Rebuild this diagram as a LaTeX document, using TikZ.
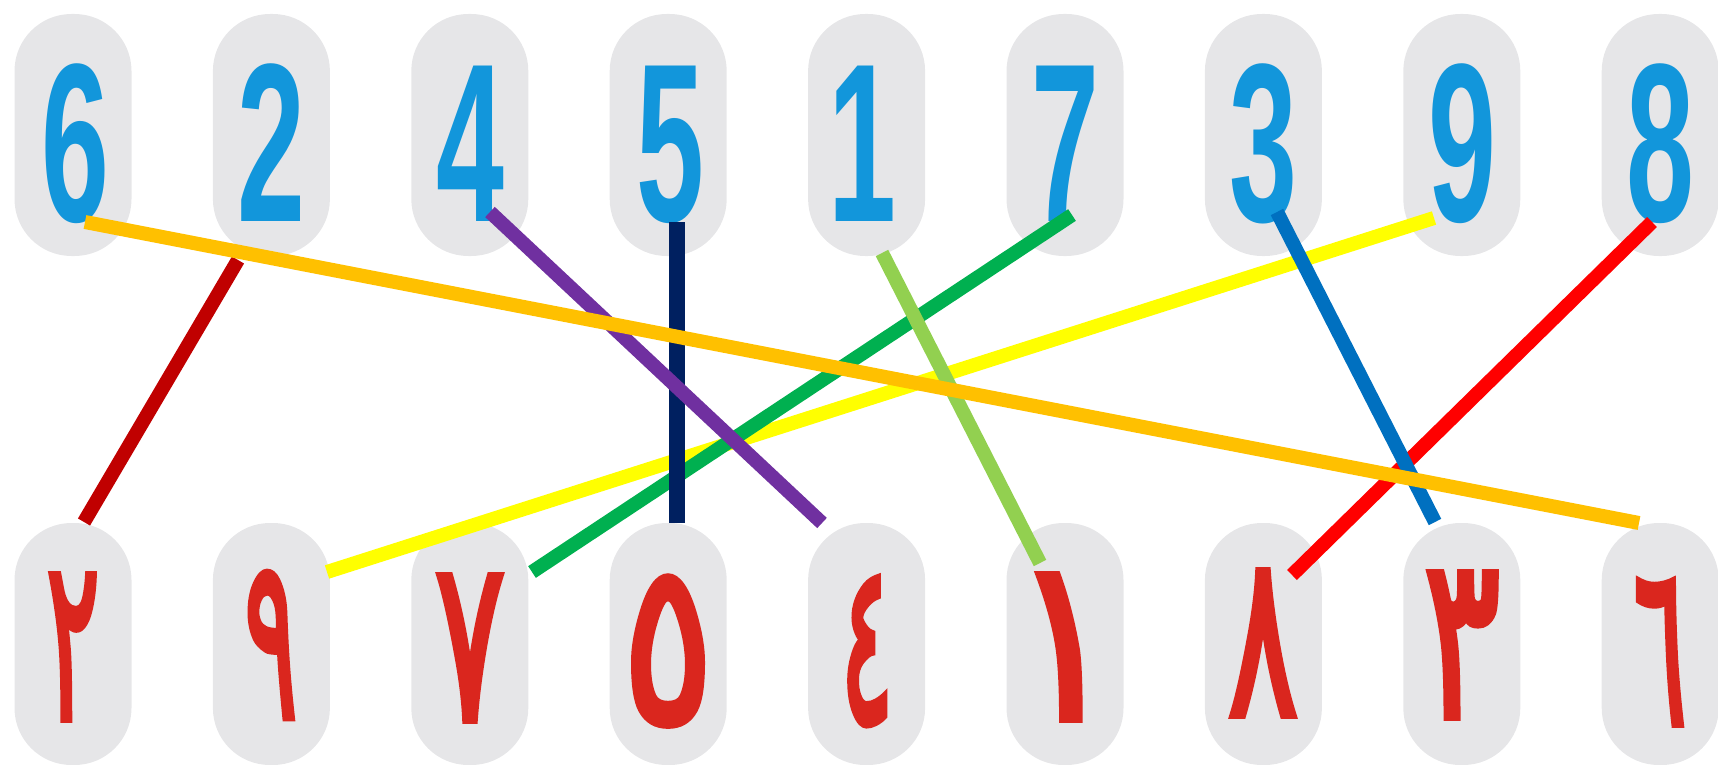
\documentclass[tikz,border=0pt]{standalone}
\usepackage{fontspec}
\usepackage{graphicx}
\newfontfamily\topfont{Liberation Sans}[BoldFont={Liberation Sans Bold}]
\newfontfamily\arabicfont[Script=Arabic, FakeBold=3]{DejaVu Sans}
\definecolor{ovalgray}{RGB}{230,230,232}
\definecolor{digblue}{RGB}{18,150,219}
\definecolor{digred}{RGB}{218,38,30}
\definecolor{cDarkRed}{RGB}{192,0,0}
\definecolor{cGold}{RGB}{255,192,0}
\definecolor{cPurple}{RGB}{112,48,160}
\definecolor{cNavy}{RGB}{0,32,96}
\definecolor{cLightGreen}{RGB}{146,208,80}
\definecolor{cGreen}{RGB}{0,176,80}
\definecolor{cYellow}{RGB}{255,255,0}
\definecolor{cBlue}{RGB}{0,112,192}
\definecolor{cRed}{RGB}{255,0,0}
\newcommand{\tdig}[1]{\scalebox{0.54}[1]{#1}}
\newcommand{\adig}[2]{\scalebox{#1}[1.14]{#2}}
\begin{document}
\begin{tikzpicture}[x=1pt,y=-1pt,
  oval/.style={fill=ovalgray, draw=none, rounded corners=57pt, minimum width=117pt, minimum height=242pt, inner sep=0pt},
  topdig/.style={inner sep=0pt, anchor=base, text=digblue, font=\topfont\bfseries\fontsize{226}{226}\selectfont},
  botdig/.style={inner sep=0pt, anchor=center, text=digred, font=\arabicfont\fontsize{200}{200}\selectfont},
  link/.style={line width=14pt, line cap=butt}]
\useasboundingbox (0,0) rectangle (1718,765);
% ovals
\foreach \i in {0,...,8}{
  \node[oval] (ot\i) at ({73+198.4*\i},135) {};
  \node[oval] (ob\i) at ({73+198.4*\i},644) {};
}
% top digits
\node[topdig] (t6) at (75,221) {\tdig{6}};
\node[topdig] (t2) at (271,221) {\tdig{2}};
\node[topdig] (t4) at (470,221) {\tdig{4}};
\node[topdig] (t5) at (670,221) {\tdig{5}};
\node[topdig] (t1) at (862,221) {\tdig{1}};
\node[topdig] (t7) at (1065,221) {\tdig{7}};
\node[topdig] (t3) at (1263,221) {\tdig{3}};
\node[topdig] (t9) at (1462,221) {\tdig{9}};
\node[topdig] (t8) at (1660,221) {\tdig{8}};
% bottom digits
\node[botdig] (b2) at (73,647) {\adig{0.5}{٢}};
\node[botdig] (b9) at (271,645) {\adig{0.5}{٩}};
\node[botdig] (b7) at (470,648) {\adig{0.66}{٧}};
\node[botdig] (b5) at (668,651) {\adig{0.85}{٥}};
\node[botdig] (b4) at (867,651) {\adig{0.5}{٤}};
\node[botdig] (b1) at (1065,647) {\adig{1}{١}};
\node[botdig] (b8) at (1263,643) {\adig{0.66}{٨}};
\node[botdig] (b3) at (1462,645) {\adig{0.72}{٣}};
\node[botdig] (b6) at (1660,652) {\adig{0.5}{٦}};
% connector end points
\coordinate (s2) at (238,260); \coordinate (e2) at (84,522);
\coordinate (s6) at (85,222);  \coordinate (e6) at (1639,523);
\coordinate (s4) at (490,212); \coordinate (e4) at (822,523);
\coordinate (s5) at (677,222); \coordinate (e5) at (677,523);
\coordinate (s1) at (882,253); \coordinate (e1) at (1040,563);
\coordinate (s7) at (1072,215); \coordinate (e7) at (532,572);
\coordinate (s9) at (1434,218); \coordinate (e9) at (327,572);
\coordinate (s3) at (1277,212); \coordinate (e3) at (1435,522);
\coordinate (s8) at (1652,222); \coordinate (e8) at (1292,575);
% connectors
\draw[link, cDarkRed] (s2) -- (e2);
\draw[link, cYellow] (s9) -- (e9);
\draw[link, cGreen] (s7) -- (e7);
\draw[link, cNavy, line width=16pt] (s5) -- (e5);
\draw[link, cPurple] (s4) -- (e4);
\draw[link, cLightGreen] (s1) -- (e1);
\draw[link, cRed] (s8) -- (e8);
\draw[link, cBlue] (s3) -- (e3);
\draw[link, cGold] (s6) -- (e6);
\end{tikzpicture}
\end{document}
